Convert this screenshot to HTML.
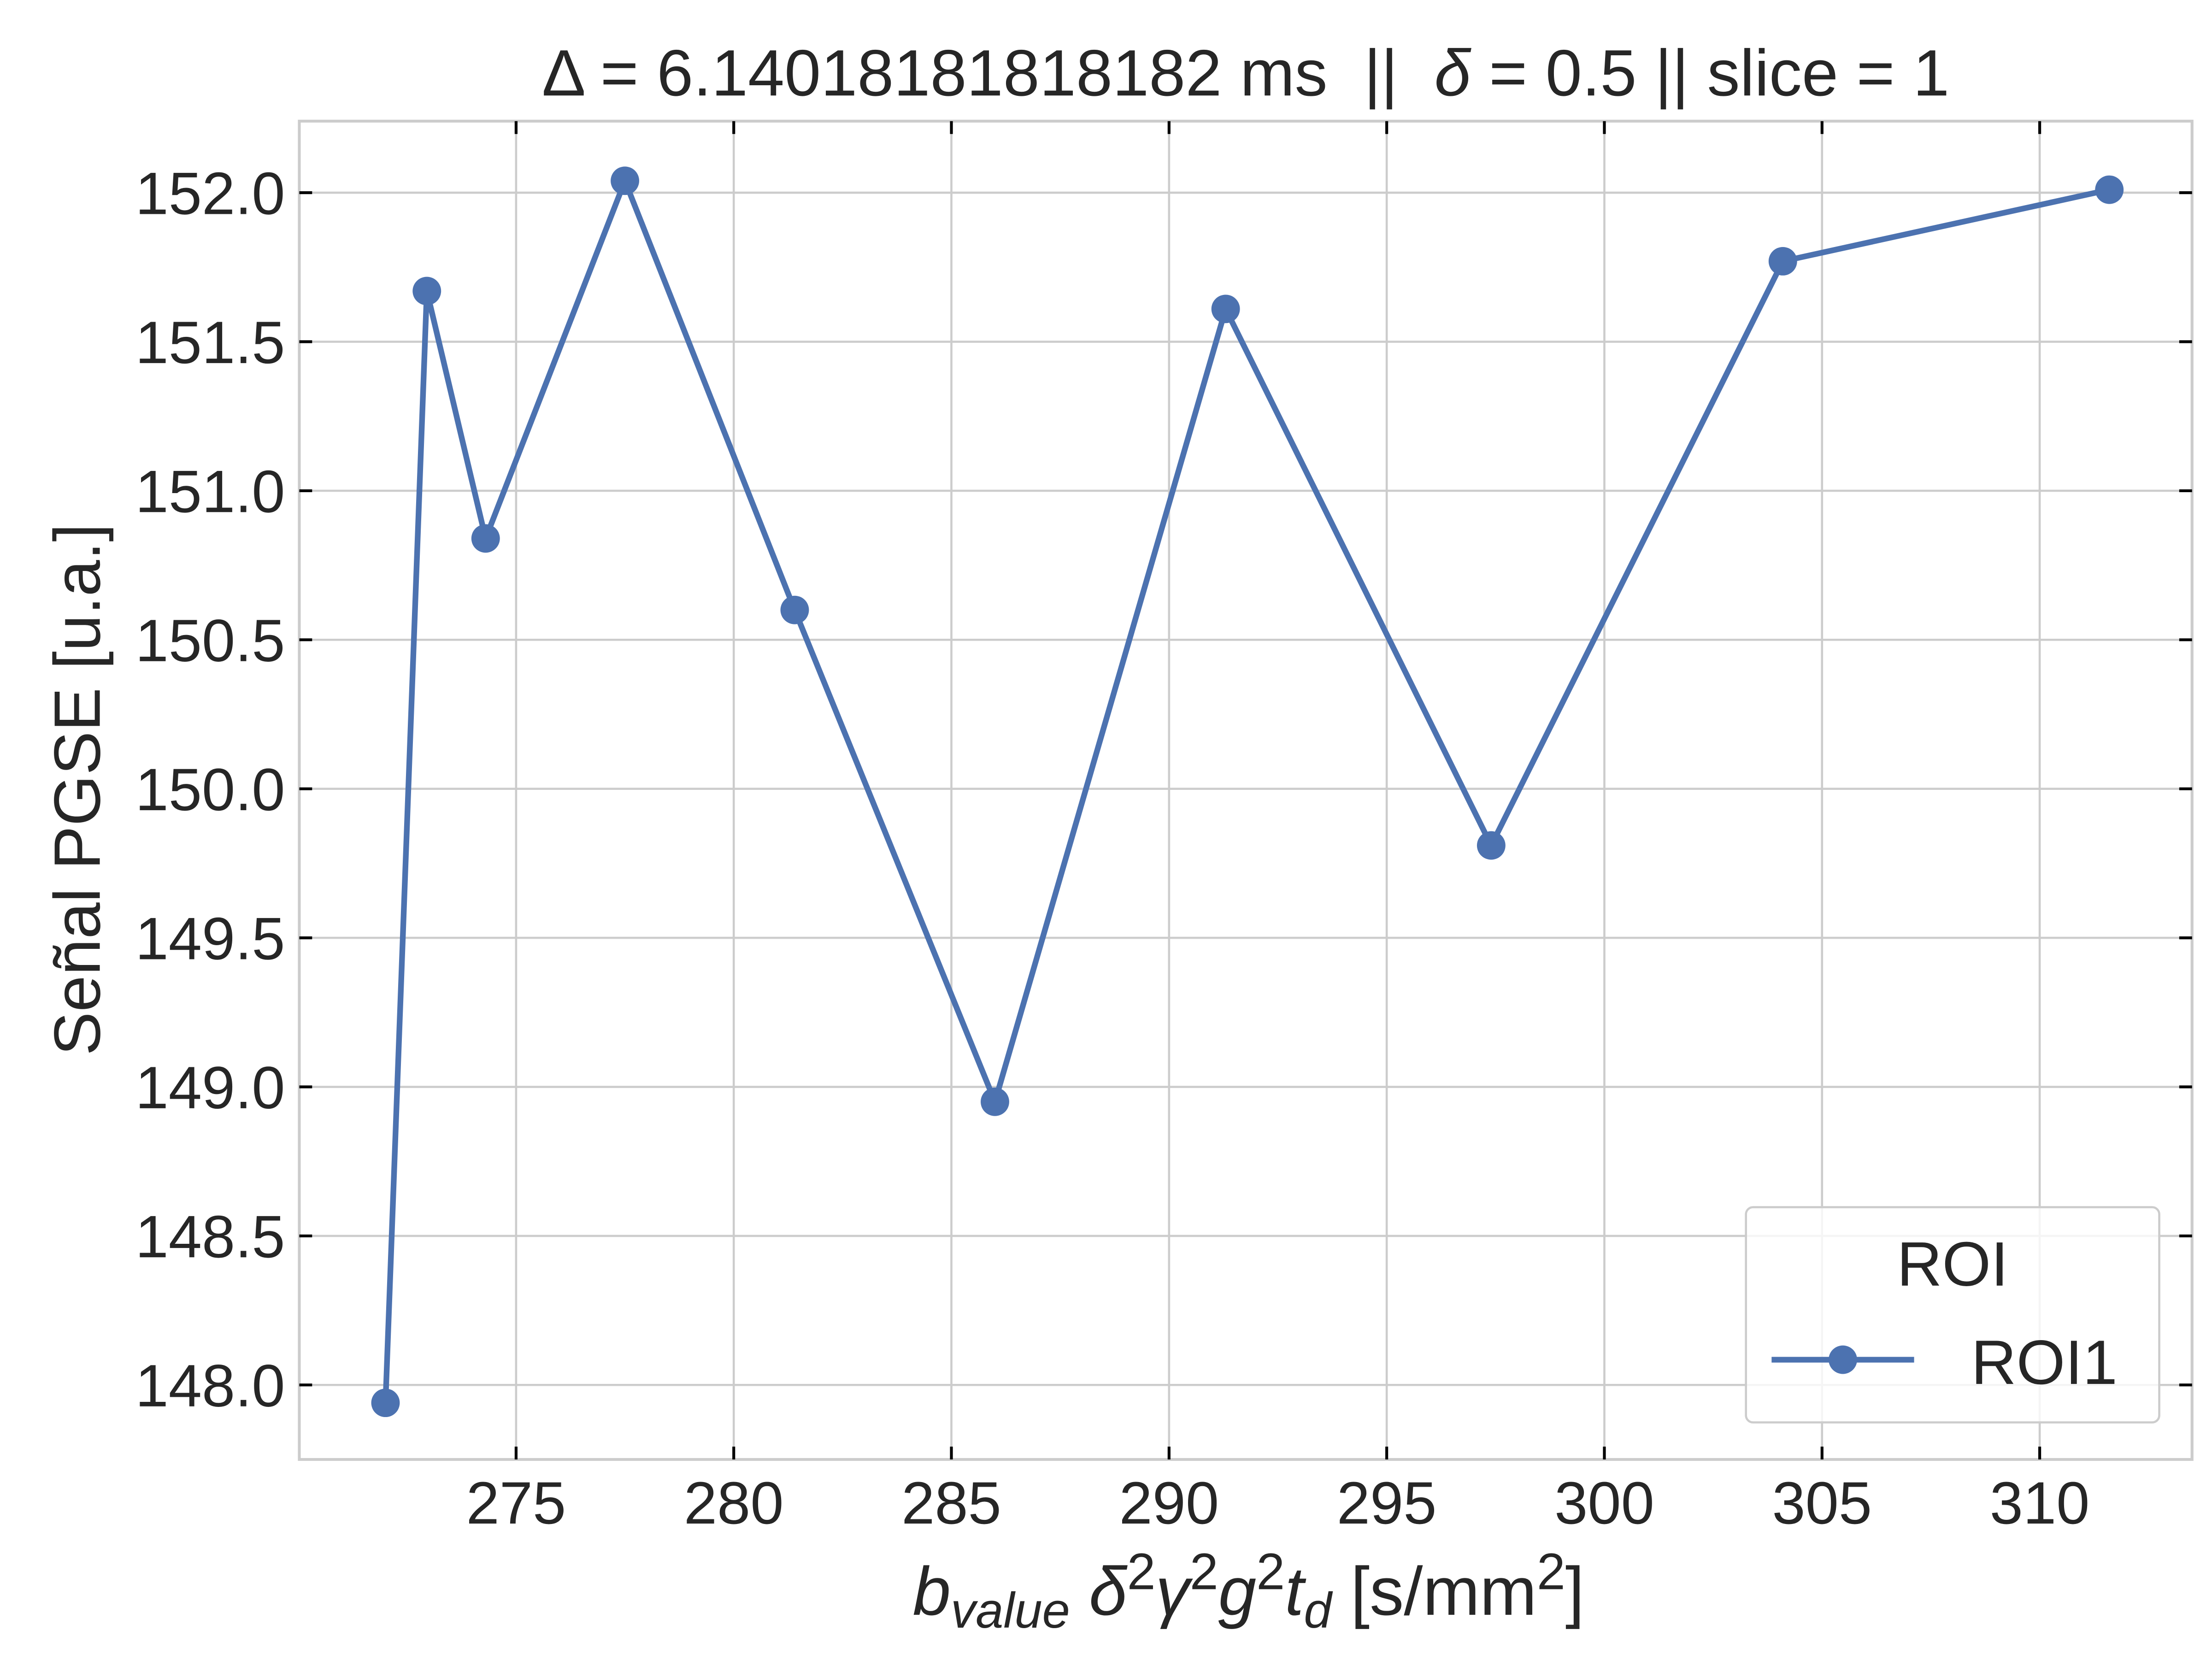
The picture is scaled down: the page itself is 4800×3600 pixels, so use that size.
<!DOCTYPE html>
<html><head><meta charset="utf-8"><style>
html,body{margin:0;padding:0;background:#fff;}
svg{display:block;}
text{font-family:"Liberation Sans","DejaVu Sans",sans-serif;fill:#262626;}
</style></head><body>
<svg id="chart" width="4800" height="3600" viewBox="0 0 1552 1164" xmlns="http://www.w3.org/2000/svg">
<rect x="0" y="0" width="1552" height="1164" fill="#fff"/>
<g id="grid"></g>
<rect x="210" y="85" width="1328" height="939" fill="none" stroke="#cccccc" stroke-width="2"/>
<g id="ticks"></g>
<g id="series"></g>
<text x="874" y="67" text-anchor="middle" font-size="46" style="white-space:pre">Δ = 6.14018181818182 ms  ||  <tspan font-style="italic">δ</tspan> = 0.5 || slice = 1</text>
<text transform="translate(70,554) rotate(-90)" text-anchor="middle" font-size="46">Señal PGSE [u.a.]</text>
<text x="876" y="1133" text-anchor="middle" font-size="48"><tspan font-style="italic">b</tspan><tspan font-style="italic" font-size="35" dy="9">value</tspan><tspan dy="-9"> </tspan><tspan font-style="italic">δ</tspan><tspan font-size="36" dy="-18">2</tspan><tspan font-style="italic" dy="18">γ</tspan><tspan font-size="36" dy="-18">2</tspan><tspan font-style="italic" dy="18">g</tspan><tspan font-size="36" dy="-18">2</tspan><tspan font-style="italic" dy="18">t</tspan><tspan font-style="italic" font-size="35" dy="9">d</tspan><tspan dy="-9"> [s/mm</tspan><tspan font-size="36" dy="-18">2</tspan><tspan dy="18">]</tspan></text>
<g>
<rect x="1225" y="847" width="290" height="151" rx="5" fill="#fff" fill-opacity="0.8" stroke="#cccccc" stroke-width="1.5"/>
<text x="1370" y="902" text-anchor="middle" font-size="44">ROI</text>
<line x1="1243" y1="954" x2="1343" y2="954" stroke="#4c72b0" stroke-width="4"/>
<circle cx="1293" cy="954" r="10" fill="#4c72b0"/>
<text x="1383" y="971" font-size="44">ROI1</text>
</g>
</svg>
<script>
const xValues = [272.0, 272.95, 274.3, 277.5, 281.4, 286.0, 291.3, 297.4, 304.1, 311.6];
const yValues = [147.94, 151.67, 150.84, 152.04, 150.6, 148.95, 151.61, 149.81, 151.77, 152.01];
const xTicks = [275, 280, 285, 290, 295, 300, 305, 310];
const yTicks = [148.0, 148.5, 149.0, 149.5, 150.0, 150.5, 151.0, 151.5, 152.0];
const yTickLabels = ["148.0","148.5","149.0","149.5","150.0","150.5","151.0","151.5","152.0"];

const L=210,R=1538,T=85,B=1024;
const xMin=270.02,xMax=313.5,yMin=147.75,yMax=152.24;
const sx=v=>L+(v-xMin)/(xMax-xMin)*(R-L);
const sy=v=>B-(v-yMin)/(yMax-yMin)*(B-T);
const NS="http://www.w3.org/2000/svg";
function mk(tag,attrs,parent){const e=document.createElementNS(NS,tag);for(const k in attrs)e.setAttribute(k,attrs[k]);parent.appendChild(e);return e;}
const grid=document.getElementById('grid'),ticks=document.getElementById('ticks'),series=document.getElementById('series');
xTicks.forEach((t)=>{
  const x=sx(t);
  const g=mk('line',{x1:x,y1:T,x2:x,y2:B,stroke:'#cccccc','stroke-width':1.5},grid);
  
  
  const a=mk('line',{x1:x,y1:B,x2:x,y2:B-9,stroke:'#000','stroke-width':2},ticks);
  
  
  const b=mk('line',{x1:x,y1:T,x2:x,y2:T+9,stroke:'#000','stroke-width':2},ticks);
  
  
  const tx=mk('text',{x:x,y:B+45,'text-anchor':'middle','font-size':42},ticks);
  tx.textContent=String(t);
  
  
});
yTicks.forEach((t,i)=>{
  const y=sy(t);
  const g=mk('line',{x1:L,y1:y,x2:R,y2:y,stroke:'#cccccc','stroke-width':1.5},grid);
  
  
  const a=mk('line',{x1:L,y1:y,x2:L+9,y2:y,stroke:'#000','stroke-width':2},ticks);
  
  
  const b=mk('line',{x1:R,y1:y,x2:R-9,y2:y,stroke:'#000','stroke-width':2},ticks);
  
  
  const tx=mk('text',{x:L-10,y:y+15,'text-anchor':'end','font-size':42},ticks);
  tx.textContent=yTickLabels[i];
  
  
});
const pts=xValues.map((v,i)=>sx(v)+','+sy(yValues[i])).join(' ');
const pl=mk('polyline',{points:pts,fill:'none',stroke:'#4c72b0','stroke-width':4,'stroke-linejoin':'round'},series);


xValues.forEach((v,i)=>{
  const c=mk('circle',{cx:sx(v),cy:sy(yValues[i]),r:10,fill:'#4c72b0'},series);
  
  
});
</script>
</body></html>
